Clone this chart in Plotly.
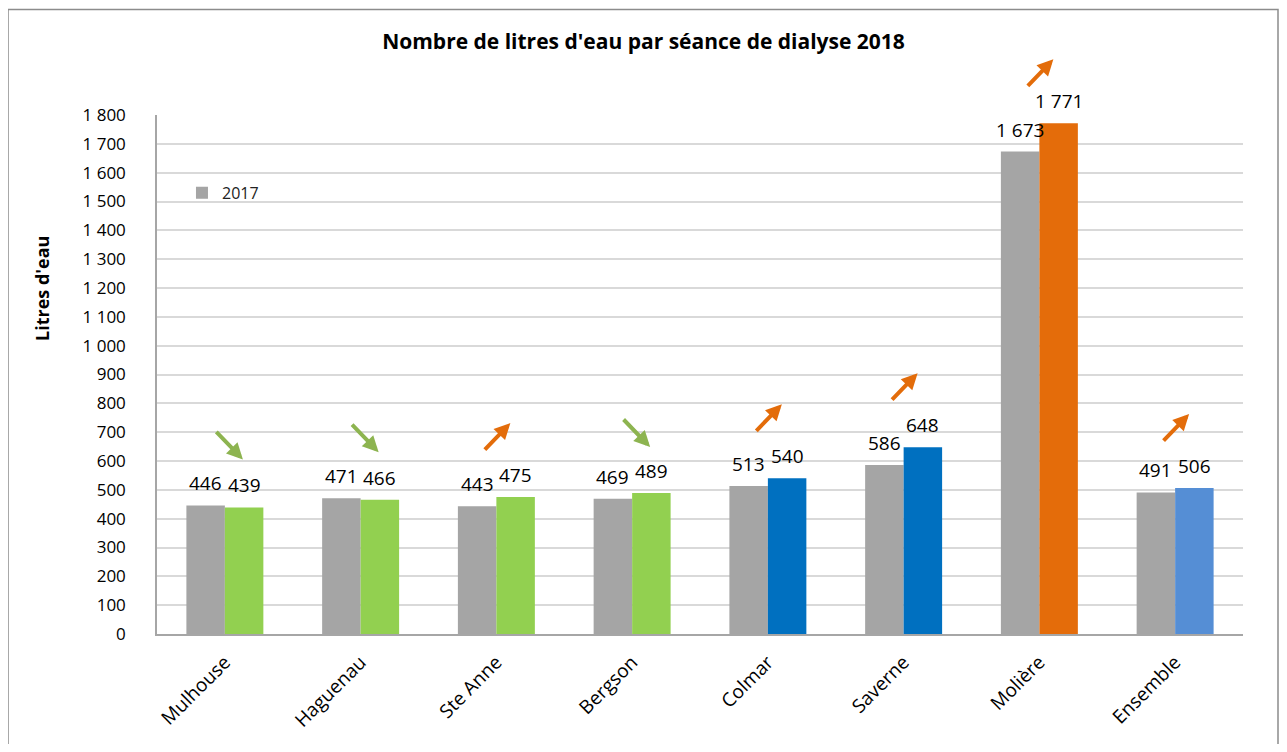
import plotly.graph_objects as go

categories = ["Mulhouse", "Haguenau", "Ste Anne", "Bergson", "Colmar", "Saverne", "Molière", "Ensemble"]
values_2017 = [446, 471, 443, 469, 513, 586, 1673, 491]
values_2018 = [439, 466, 475, 489, 540, 648, 1771, 506]
colors_2018 = ["#92D050", "#92D050", "#92D050", "#92D050", "#0070C0", "#0070C0", "#E46C0A", "#558ED5"]
trend = ["down", "down", "up", "down", "up", "up", "up", "up"]

GREY = "#A5A5A5"
FONT = "Open Sans, Noto Sans, sans-serif"

fig = go.Figure()
fig.add_trace(go.Bar(name="2017", x=categories, y=values_2017, marker_color=GREY,
                     marker_line_width=0, showlegend=True))
fig.add_trace(go.Bar(name="2018", x=categories, y=values_2018, marker_color=colors_2018,
                     marker_line_width=0, showlegend=False))

def fmt(v):
    return f"{v:,}".replace(",", " ")

annotations = []
half = (1 - 0.433) / 4  # half of one bar width in category units
for i, (a, b) in enumerate(zip(values_2017, values_2018)):
    for val, dx in ((a, -half), (b, half)):
        annotations.append(dict(x=i + dx, y=val, xref="x", yref="y", text=fmt(val),
                                showarrow=False, yshift=22,
                                font=dict(family=FONT, size=19, color="black")))
    top = max(a, b)
    if trend[i] == "down":
        col = "#8DB450"
        annotations.append(dict(x=i, y=top, xref="x", yref="y", text="", showarrow=True,
                                ax=-28, ay=-29, xshift=18, yshift=46,
                                arrowcolor=col, arrowwidth=4, arrowhead=2, arrowsize=0.8))
    else:
        col = "#E36C0A"
        annotations.append(dict(x=i, y=top, xref="x", yref="y", text="", showarrow=True,
                                ax=-27, ay=28, xshift=14, yshift=(36 if top > 1000 else 46) + 28,
                                arrowcolor=col, arrowwidth=4, arrowhead=2, arrowsize=0.8))

annotations.append(dict(text="<b>Litres d'eau</b>", xref="paper", yref="paper",
                        x=-115/1086, y=(637-290)/522, textangle=-90, showarrow=False,
                        xanchor="center", yanchor="middle",
                        font=dict(family=FONT, size=18, color="black")))

fig.update_layout(
    width=1271, height=736,
    paper_bgcolor="white", plot_bgcolor="white",
    separators=", ",
    barmode="group", bargap=0.433, bargroupgap=0,
    margin=dict(l=149, r=36, t=107, b=107),
    title=dict(text="<b>Nombre de litres d'eau par séance de dialyse 2018</b>",
               x=0.5, xanchor="center", y=1 - 34/736, yanchor="middle",
               font=dict(family=FONT, size=21, color="black")),
    font=dict(family=FONT, color="black"),
    legend=dict(x=0.023, y=0.85, xanchor="left", yanchor="middle",
                bgcolor="rgba(0,0,0,0)", font=dict(family=FONT, size=16, color="#222")),
    annotations=annotations,
    shapes=[dict(type="rect", xref="paper", yref="paper",
                 x0=-149/1086, x1=1 + 35/1086, y0=-140/522, y1=1 + 106/522,
                 line=dict(color="#8C8C8C", width=1.5), fillcolor="rgba(0,0,0,0)", layer="above")],
)

fig.update_yaxes(range=[0, 1800], dtick=100, tick0=0, tickformat=",d",
                 showgrid=True, gridcolor="#D9D9D9", gridwidth=1.5,
                 showline=True, linecolor="#A6A6A6", linewidth=1.5,
                 ticks="", ticklabelstandoff=26,
                 tickfont=dict(family=FONT, size=17, color="black"),
                 zeroline=False)
fig.update_xaxes(showline=True, linecolor="#A6A6A6", linewidth=1.5, ticks="",
                 tickangle=-45, tickfont=dict(family=FONT, size=19, color="black"),
                 ticklabelstandoff=8)

fig.write_html("out.html")
